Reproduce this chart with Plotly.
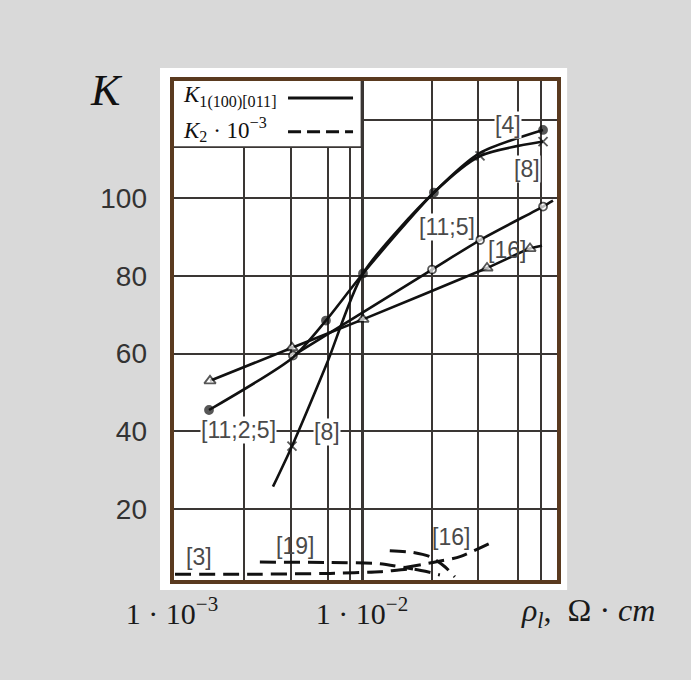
import numpy as np
import plotly.graph_objects as go

# ---------------- data (rho in Ohm*cm, K) ----------------
rho_4 = [1.566e-3, 4.33e-3, 6.46e-3, 1.012e-2, 2.39e-2, 4.18e-2, 8.97e-2]
k_4 = [45.5, 59.0, 68.5, 80.6, 101.4, 111.6, 117.5]
mk_4 = [8, 0, 8, 8, 8, 0, 8]

rho_115 = [4.33e-3, 2.336e-2, 4.18e-2, 8.97e-2, 0.1012]
k_115 = [59.5, 81.6, 89.2, 97.8, 99.3]
mk_115 = [8, 8, 8, 8, 0]

rho_16 = [1.585e-3, 4.28e-3, 1.012e-2, 4.55e-2, 7.66e-2, 8.86e-2]
k_16 = [53.0, 61.5, 68.8, 82.0, 87.0, 87.7]
mk_16 = [10, 10, 10, 10, 10, 0]

rho_8 = [3.40e-3, 4.28e-3, 6.54e-3, 1.012e-2, 2.39e-2, 4.18e-2, 8.97e-2]
k_8 = [25.8, 36.2, 57.5, 80.6, 101.4, 110.8, 114.5]
mk_8 = [0, 9, 0, 0, 0, 9, 9]

# K2 * 10^-3 (dashed)
rho_k2_3 = [1.037e-3, 2.90e-3, 6.79e-3, 1.244e-2, 1.855e-2, 2.57e-2]
k_k2_3 = [3.3, 3.3, 3.5, 3.9, 4.6, 3.1]
rho_k2_19 = [2.90e-3, 6.79e-3, 1.244e-2, 1.855e-2]
k_k2_19 = [6.4, 6.3, 6.0, 4.6]
rho_k2_16a = [1.40e-2, 1.855e-2, 2.28e-2, 2.73e-2, 3.08e-2]
k_k2_16a = [9.3, 8.9, 7.8, 5.2, 2.6]
rho_k2_16b = [1.68e-2, 2.36e-2, 3.28e-2, 4.89e-2]
k_k2_16b = [5.0, 6.3, 7.8, 11.6]

# grid / ticks
x_major = [1e-3, 1e-2]
x_major_text = ["1 · 10<sup>−3</sup>", "1 · 10<sup>−2</sup>"]
x_minor = [2.39e-3, 4.23e-3, 6.62e-3, 8.65e-3, 2.33e-2, 4.08e-2, 6.62e-2, 8.75e-2]
y_ticks = [20, 40, 60, 80, 100, 120]
y_text = ["20", "40", "60", "80", "100", ""]

# reference labels: (text, rho, K, white background)
ref_labels = [
    ("[4]", 5.87e-2, 118.8, True),
    ("[8]", 7.38e-2, 107.5, True),
    ("[11;5]", 2.80e-2, 92.5, True),
    ("[16]", 5.80e-2, 86.6, False),
    ("[11;2;5]", 2.25e-3, 40.4, True),
    ("[8]", 6.54e-3, 39.8, True),
    ("[3]", 1.39e-3, 7.7, False),
    ("[19]", 4.44e-3, 10.5, False),
    ("[16]", 2.94e-2, 12.9, False),
]

INK = "#111111"
fig = go.Figure()

def solid(x, y, sizes, symbol, fill):
    fig.add_trace(go.Scatter(
        x=x, y=y, mode="lines+markers",
        line=dict(color=INK, width=2.6, shape="spline", smoothing=0.7),
        marker=dict(size=sizes, symbol=symbol, color=fill,
                    line=dict(color=INK, width=1.8)),
        showlegend=False, hoverinfo="skip"))

solid(rho_16, k_16, mk_16, "triangle-up", "white")
solid(rho_115, k_115, mk_115, "circle", "white")
solid(rho_8, k_8, mk_8, "x-thin", INK)
solid(rho_4, k_4, mk_4, "circle", INK)

for xs, ys in [(rho_k2_3, k_k2_3), (rho_k2_19, k_k2_19),
               (rho_k2_16a, k_k2_16a), (rho_k2_16b, k_k2_16b)]:
    fig.add_trace(go.Scatter(
        x=xs, y=ys, mode="lines",
        line=dict(color=INK, width=3, dash="16px,8px", shape="spline", smoothing=0.6),
        showlegend=False, hoverinfo="skip"))

GRID = "#3a3634"
fig.update_xaxes(
    type="log", range=[-3, -0.9632],
    tickmode="array", tickvals=x_major, ticktext=x_major_text,
    showgrid=True, gridcolor=GRID, gridwidth=2.8,
    minor=dict(tickvals=x_minor, showgrid=True, gridcolor=GRID, gridwidth=1.7, ticks=""),
    ticks="", ticklabelstandoff=11, zeroline=False, showline=False,
    tickfont=dict(family="Liberation Serif", size=30, color="#1a1a1a"),
)
fig.update_yaxes(
    range=[1.285, 130.59],
    tickmode="array", tickvals=y_ticks, ticktext=y_text,
    showgrid=True, gridcolor=GRID, gridwidth=1.6,
    ticks="", ticklabelstandoff=24, zeroline=False, showline=False,
    tickfont=dict(family="Liberation Sans", size=28, color="#333333"),
)

shapes = [
    # white card behind the plot
    dict(type="rect", xref="paper", yref="paper", x0=-0.031, x1=1.021, y0=-0.016, y1=1.022,
         fillcolor="white", line=dict(width=0), layer="below"),
    # legend box
    dict(type="rect", xref="x", yref="y", x0=1e-3, x1=1e-2, y0=113.1, y1=130.59,
         fillcolor="white", line=dict(width=0), layer="between"),
    dict(type="line", xref="x", yref="y", x0=1e-3, x1=1e-2, y0=113.1, y1=113.1,
         line=dict(color=GRID, width=1.8), layer="between"),
    dict(type="line", xref="x", yref="y", x0=1e-2, x1=1e-2, y0=113.1, y1=130.59,
         line=dict(color=GRID, width=2.8), layer="between"),
    # legend samples
    dict(type="line", xref="x", yref="y", x0=4.08e-3, x1=8.97e-3, y0=125.7, y1=125.7,
         line=dict(color=INK, width=3)),
    dict(type="line", xref="x", yref="y", x0=4.08e-3, x1=8.97e-3, y0=117.0, y1=117.0,
         line=dict(color=INK, width=3, dash="13px,6px")),
    # brown frame
    dict(type="rect", xref="paper", yref="paper", x0=0, x1=1, y0=0, y1=1,
         line=dict(color="#5a3a1f", width=4), fillcolor="rgba(0,0,0,0)", layer="above"),
]

annotations = []
for txt, rx, ky, bg in ref_labels:
    annotations.append(dict(
        x=np.log10(rx), y=ky, xref="x", yref="y", text=txt, showarrow=False,
        font=dict(family="Liberation Sans", size=23, color="#4a4a4a"),
        bgcolor="white" if bg else "rgba(0,0,0,0)", borderpad=0,
        xanchor="center", yanchor="middle"))

annotations += [
    dict(x=np.log10(1.115e-3), y=126.0, xref="x", yref="y", showarrow=False,
         text="<i>K</i><sub>1(100)[011]</sub>", xanchor="left", yanchor="middle",
         font=dict(family="Liberation Serif", size=23, color="#111111")),
    dict(x=np.log10(1.115e-3), y=117.5, xref="x", yref="y", showarrow=False,
         text="<i>K</i><sub>2</sub> · 10<sup>−3</sup>", xanchor="left", yanchor="middle",
         font=dict(family="Liberation Serif", size=23, color="#111111")),
    dict(x=-0.1705, y=0.977, xref="paper", yref="paper", showarrow=False,
         text="<i>K</i>", xanchor="center", yanchor="middle",
         font=dict(family="Liberation Serif", size=44, color="#111111")),
    dict(x=1.075, y=-0.06, xref="paper", yref="paper", showarrow=False,
         text="<i>ρ<sub>l</sub></i>,  Ω · <i>cm</i>", xanchor="center", yanchor="middle",
         font=dict(family="Liberation Serif", size=32, color="#1a1a1a")),
]

fig.update_layout(
    width=691, height=680,
    margin=dict(l=172, r=132, t=79, b=98),
    paper_bgcolor="#d9d9d9", plot_bgcolor="white",
    shapes=shapes, annotations=annotations, showlegend=False,
)

fig.write_html("out.html")
